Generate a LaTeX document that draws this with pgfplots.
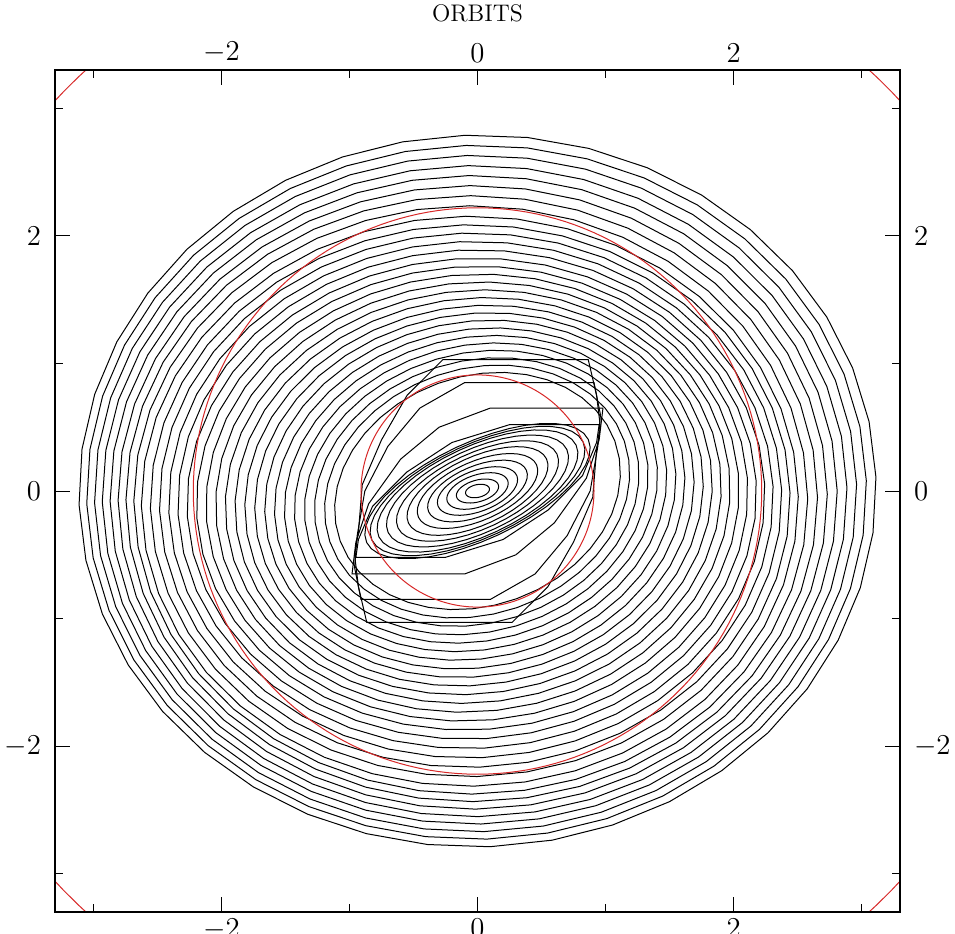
\documentclass[border=0pt]{standalone}
\usepackage{pgfplots}
\pgfplotsset{compat=1.18}
\usepackage{pgfplotstable}
\definecolor{orbred}{RGB}{215,40,40}

% closed orbits: semi-axes a, b, tilt th (deg), centre cx cy
\pgfplotstableread{
a     b     th   cx      cy
0.095 0.050 12   0       0
0.170 0.085 16   0       0
0.250 0.125 19   0       0
0.330 0.160 21   0       0
0.415 0.195 23   0       0
0.505 0.230 24   0       0
0.595 0.265 25   0       0
0.685 0.295 25   0       0
0.770 0.325 25   0       0
0.850 0.350 25   0       0
0.910 0.365 25   0       0
0.955 0.380 25   0       0
1.142 0.898 20.0 0       0
1.216 0.962 18.9 -0.003  -0.004
1.290 1.026 17.7 -0.006  -0.008
1.363 1.091 16.6 -0.009  -0.012
1.437 1.155 15.4 -0.012  -0.016
1.510 1.220 14.3 -0.015  -0.020
1.582 1.286 13.1 -0.018  -0.024
1.653 1.353 12.0 -0.021  -0.028
1.726 1.418 10.8 -0.024  -0.032
1.799 1.483 9.7  -0.027  -0.036
1.871 1.549 8.6  -0.030  -0.040
1.943 1.615 7.5  -0.033  -0.044
2.014 1.682 6.4  -0.036  -0.048
2.085 1.749 5.3  -0.039  -0.052
2.156 1.816 4.2  -0.042  -0.056
2.226 1.884 3.6  -0.045  -0.060
2.294 1.954 3.0  -0.048  -0.064
2.362 2.024 2.5  -0.051  -0.068
2.431 2.094 1.9  -0.054  -0.072
2.499 2.163 1.4  -0.057  -0.076
2.566 2.234 0.8  -0.060  -0.080
2.632 2.306 0.2  -0.0525 -0.070
2.701 2.375 0.2  -0.045  -0.060
2.770 2.444 0.5  -0.0375 -0.050
2.840 2.513 0.8  -0.030  -0.040
2.909 2.581 1.1  -0.0225 -0.030
2.977 2.651 1.4  -0.015  -0.020
3.046 2.720 1.7  -0.0075 -0.010
3.114 2.790 2.0  0       0
}\orbits

% resonance circles (radius)
\pgfplotstableread{
r
0.91
2.22
4.50
}\circles

\pgfplotsset{
  orbit/.style={black,line width=0.5pt},
  ring/.style={orbred,line width=0.5pt},
  frame/.style={scale only axis,width=422.5pt,height=421pt,
    xmin=-3.3,xmax=3.3,ymin=-3.3,ymax=3.3,
    xtick={-2,0,2},ytick={-2,0,2},
    minor xtick={-3,-1,1,3},minor ytick={-3,-1,1,3},
    tick align=inside,major tick length=7.5pt,minor tick length=4pt,
    axis line style={line width=0.6pt},tick style={line width=0.5pt,black},
    tick label style={font=\fontsize{14}{16}\selectfont},
    clip=true},
}

\begin{document}
\begin{tikzpicture}
\begin{axis}[frame,yticklabel style={xshift=-3.5pt}]
\pgfplotsinvokeforeach{0,...,40}{%
  \pgfplotstablegetelem{#1}{a}\of\orbits \let\oa\pgfplotsretval
  \pgfplotstablegetelem{#1}{b}\of\orbits \let\ob\pgfplotsretval
  \pgfplotstablegetelem{#1}{th}\of\orbits \let\ot\pgfplotsretval
  \pgfplotstablegetelem{#1}{cx}\of\orbits \let\ox\pgfplotsretval
  \pgfplotstablegetelem{#1}{cy}\of\orbits \let\oy\pgfplotsretval
  \edef\doplot{\noexpand\addplot[orbit,domain=0:360,samples=41]
    ({\ox+\oa*cos(x)*cos(\ot)-\ob*sin(x)*sin(\ot)},
     {\oy+\oa*cos(x)*sin(\ot)+\ob*sin(x)*cos(\ot)});}
  \doplot
}
% orbits near the inner resonance, drawn with their long chords
\addplot[orbit] coordinates {(-0.27,1.03) (0.865,1.03) (0.93,0.75) (0.96,0.5) (0.93,0.32) (0.9,-0.05) (0.75,-0.4) (0.55,-0.75) (0.27,-1.03) (-0.865,-1.03) (-0.93,-0.75) (-0.96,-0.5) (-0.93,-0.32) (-0.9,0.05) (-0.75,0.4) (-0.55,0.75) (-0.27,1.03)};
\addplot[orbit] coordinates {(-0.1,0.85) (0.91,0.85) (0.96,0.6) (0.94,0.35) (0.88,0.0) (0.7,-0.35) (0.45,-0.65) (0.1,-0.85) (-0.91,-0.85) (-0.96,-0.6) (-0.94,-0.35) (-0.88,0.0) (-0.7,0.35) (-0.45,0.65) (-0.1,0.85)};
\addplot[orbit] coordinates {(0.1,0.65) (0.98,0.65) (0.95,0.4) (0.85,0.1) (0.6,-0.25) (0.3,-0.5) (-0.1,-0.65) (-0.98,-0.65) (-0.95,-0.4) (-0.85,-0.1) (-0.6,0.25) (-0.3,0.5) (0.1,0.65)};
\addplot[orbit] coordinates {(0.25,0.52) (0.95,0.52) (0.93,0.38) (0.82,0.12) (0.55,-0.15) (0.2,-0.38) (-0.25,-0.52) (-0.95,-0.52) (-0.93,-0.38) (-0.82,-0.12) (-0.55,0.15) (-0.2,0.38) (0.25,0.52)};
\pgfplotsinvokeforeach{0,1,2}{%
  \pgfplotstablegetelem{#1}{r}\of\circles \let\cr\pgfplotsretval
  \edef\doplot{\noexpand\addplot[ring,domain=0:360,samples=181]
    ({\cr*cos(x)},{\cr*sin(x)});}
  \doplot
}
\end{axis}
\begin{axis}[frame,xticklabel pos=upper,yticklabel pos=right,
  yticklabel style={xshift=3.5pt},
  major tick length=0pt,minor tick length=0pt,
  title={ORBITS},title style={font=\fontsize{12}{14}\selectfont,
    at={(0.5,1)},anchor=base,yshift=18pt}]
\end{axis}
\pgfresetboundingbox
\path[use as bounding box] ([shift={(-27.5pt,-10.5pt)}]current axis.south west)
  rectangle ([shift={(27.5pt,35pt)}]current axis.north east);
\end{tikzpicture}
\end{document}
